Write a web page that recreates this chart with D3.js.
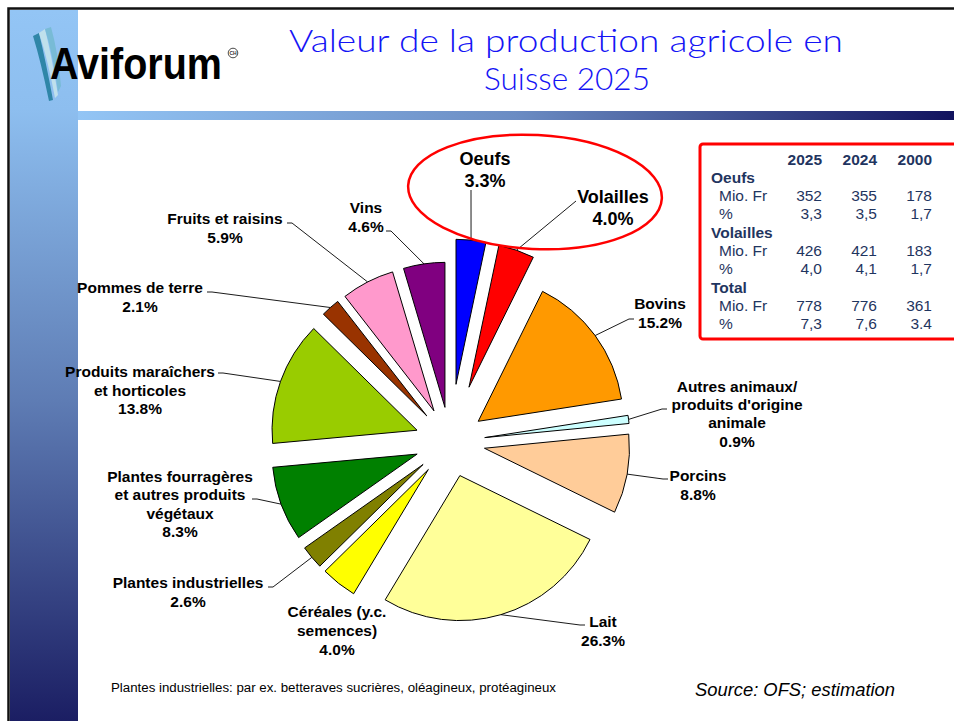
<!DOCTYPE html>
<html><head><meta charset="utf-8">
<script src="https://cdn.jsdelivr.net/npm/d3@7"></script>
<style>html,body{margin:0;padding:0;background:#fff;} svg{display:block;}</style>
</head><body>
<svg id="chart" width="954" height="721"></svg>
<script>
// ---------- DATA ----------
const categories = [
  "Oeufs", "Volailles", "Bovins",
  "Autres animaux/\nproduits d'origine\nanimale",
  "Porcins", "Lait", "Céréales (y.c.\nsemences)",
  "Plantes industrielles",
  "Plantes fourragères\net autres produits\nvégétaux",
  "Produits maraîchers\net horticoles",
  "Pommes de terre", "Fruits et raisins", "Vins"
];
const shares = [3.3, 4.0, 15.2, 0.9, 8.8, 26.3, 4.0, 2.6, 8.3, 13.8, 2.1, 5.9, 4.6];
const colors = ["#0000FF","#FF0000","#FF9900","#CCFFFF","#FFCC99","#FFFF99","#FFFF00",
                "#808000","#008000","#99CC00","#993300","#FF99CC","#800080"];
const highlighted = ["Oeufs", "Volailles"];

const tableYears = ["2025", "2024", "2000"];
const tableGroups = ["Oeufs", "Volailles", "Total"];
const tableUnits = ["Mio. Fr", "%"];
const oeufsValues = [["352","355","178"], ["3,3","3,5","1,7"]];
const volaillesValues = [["426","421","183"], ["4,0","4,1","1,7"]];
const totalValues = [["778","776","361"], ["7,3","7,6","3.4"]];

const titleLines = ["Valeur de la production agricole en", "Suisse 2025"];
const footnote = "Plantes industrielles: par ex. betteraves sucrières, oléagineux, protéagineux";
const sourceText = "Source: OFS; estimation";

// ---------- LAYOUT ----------
const svg = d3.select("#chart");
const W = 954, H = 721;
const defs = svg.append("defs");

const gV = defs.append("linearGradient").attr("id","gv").attr("x1",0).attr("y1",0).attr("x2",0).attr("y2",1);
[[0,"#93C5F5"],[0.14,"#8DBEEF"],[0.55,"#5E7CB4"],[1,"#1B1E63"]].forEach(s=>gV.append("stop").attr("offset",s[0]).attr("stop-color",s[1]));
const gH = defs.append("linearGradient").attr("id","gh").attr("x1",0).attr("y1",0).attr("x2",1).attr("y2",0);
[[0,"#93C5F5"],[0.5,"#6B8CC3"],[1,"#11125E"]].forEach(s=>gH.append("stop").attr("offset",s[0]).attr("stop-color",s[1]));

svg.append("rect").attr("width",W).attr("height",H).attr("fill","#fff");
svg.append("rect").attr("x",10).attr("y",10).attr("width",68).attr("height",H-10).attr("fill","url(#gv)");
svg.append("rect").attr("x",78).attr("y",111).attr("width",W-78).attr("height",9).attr("fill","url(#gh)");
svg.append("path").attr("d",`M8.5,${H+2} V8.5 H${W+2}`).attr("fill","none").attr("stroke","#111").attr("stroke-width",2.5);

// logo
const logo = svg.append("g");
logo.append("path").attr("d","M33,36 Q41,62 49,101 L53,100 Q46,62 39,33 Z").attr("fill","#2F86A8");
logo.append("path").attr("d","M39,33 Q48,60 55,98 L58,95 Q52,58 45,29 Z").attr("fill","#BFE0EC");
logo.append("path").attr("d","M45,29 Q53,55 58,92 L61,86 Q58,52 51,27 Z").attr("fill","#78BBD6");
logo.append("text").attr("transform","translate(50,79) scale(1,1.15)").attr("font-family","'Liberation Sans', Arial, sans-serif")
  .attr("font-weight","bold").attr("font-size",39).attr("textLength",172).attr("lengthAdjust","spacingAndGlyphs")
  .attr("fill","#000").text("Aviforum");
logo.append("circle").attr("cx",233).attr("cy",53).attr("r",4.8).attr("fill","none").attr("stroke","#333").attr("stroke-width",0.9);
logo.append("text").attr("x",233).attr("y",54.8).attr("text-anchor","middle").attr("font-family","'Liberation Sans', Arial")
  .attr("font-size",5).attr("font-weight","bold").attr("fill","#333").text("CH");

// title
const titleG = svg.append("g").attr("font-family","Lato, 'Liberation Sans', sans-serif").attr("font-weight",300)
  .attr("font-size",32).attr("fill","#1414F5").attr("text-anchor","middle");
titleG.append("text").attr("x",566).attr("y",52).attr("textLength",554).attr("lengthAdjust","spacingAndGlyphs").text(titleLines[0]);
titleG.append("text").attr("x",567).attr("y",90).attr("textLength",166).attr("lengthAdjust","spacingAndGlyphs").text(titleLines[1]);

// ---------- PIE ----------
const cx = 450, cy = 442, R = 145;
const explodeDefault = 35, explodeHighlight = 58;
const pie = d3.pie().sort(null).value(d => d);
const arcs = pie(shares);
const arcGen = d3.arc().innerRadius(0).outerRadius(R);
const pieG = svg.append("g").attr("transform",`translate(${cx},${cy})`);

function offsetOf(a, i) {
  const m = (a.startAngle + a.endAngle) / 2;
  const e = highlighted.includes(categories[i]) ? explodeHighlight : explodeDefault;
  return [e * Math.sin(m), -e * Math.cos(m)];
}
function outerMid(a, i) {
  const m = (a.startAngle + a.endAngle) / 2;
  const o = offsetOf(a, i);
  return [cx + o[0] + R * Math.sin(m), cy + o[1] - R * Math.cos(m)];
}

pieG.selectAll("path.slice").data(arcs).join("path").attr("class","slice")
  .attr("transform",(a,i)=>{const o=offsetOf(a,i);return `translate(${o[0]},${o[1]})`;})
  .attr("d",arcGen).attr("fill",(a,i)=>colors[i]).attr("stroke","#000").attr("stroke-width",1);

// label layout (text block centre x, first baseline, line height, leader end, stub)
const labelLayout = [
  {x:485, y:165, lh:22, fs:18, end:[471,190], stub:0},
  {x:613, y:203, lh:22, fs:18, end:[576,201], stub:0},
  {x:660, y:309, lh:19, fs:15.5, end:[634,319], stub:-5},
  {x:737, y:392, lh:18.2, fs:15.5, end:[667,409], stub:-5},
  {x:698, y:481, lh:19, fs:15.5, end:[668,479], stub:-5},
  {x:603, y:627, lh:18.5, fs:15.5, end:[585,625], stub:-5},
  {x:337, y:617, lh:19, fs:15.5, end:null},
  {x:188, y:588, lh:19, fs:15.5, end:[268,587], stub:5},
  {x:180, y:482, lh:18.3, fs:15.5, end:[252,499], stub:5},
  {x:140, y:377, lh:18.5, fs:15.5, end:[218,373], stub:5},
  {x:140, y:293, lh:18.5, fs:15.5, end:[207,292], stub:5},
  {x:225, y:224, lh:18.5, fs:15.5, end:[287,223], stub:5},
  {x:366, y:213, lh:18.5, fs:15.5, end:[386,231], stub:5}
];

const leaderG = svg.append("g").attr("fill","none").attr("stroke","#000").attr("stroke-width",0.9);
arcs.forEach((a,i)=>{
  const L = labelLayout[i];
  if (!L.end) return;
  const p = outerMid(a,i);
  const pts = [p];
  if (L.stub) pts.push([L.end[0]+L.stub, L.end[1]]);
  pts.push(L.end);
  leaderG.append("path").attr("d", d3.line()(pts));
});

const fmt = d3.format(".1f");
const labelG = svg.append("g").attr("font-family","'Liberation Sans', Arial, sans-serif")
  .attr("font-weight","bold").attr("fill","#000").attr("text-anchor","middle");
arcs.forEach((a,i)=>{
  const L = labelLayout[i];
  const lines = categories[i].split("\n").concat([fmt(shares[i]) + "%"]);
  const t = labelG.append("text").attr("font-size",L.fs);
  lines.forEach((s,k)=>t.append("tspan").attr("x",L.x).attr("y",L.y + k*L.lh).text(s));
});

// highlight ellipse
svg.append("ellipse").attr("cx",535).attr("cy",192).attr("rx",127).attr("ry",57)
  .attr("transform","rotate(3,535,192)").attr("fill","none").attr("stroke","#FF0000").attr("stroke-width",2.5);

// ---------- TABLE ----------
svg.append("rect").attr("x",700).attr("y",144).attr("width",280).attr("height",195).attr("rx",3)
  .attr("fill","none").attr("stroke","#FF0000").attr("stroke-width",3);
const tg = svg.append("g").attr("font-family","'Liberation Sans', Arial, sans-serif").attr("font-size",15.5).attr("fill","#1F3560");
const colRight = [822, 877, 932];
tableYears.forEach((yr,j)=>tg.append("text").attr("x",colRight[j]).attr("y",164.5).attr("text-anchor","end").attr("font-weight","bold").text(yr));
const groupValues = [oeufsValues, volaillesValues, totalValues];
const groupTop = [183, 237.5, 293];
tableGroups.forEach((g,gi)=>{
  const y0 = groupTop[gi];
  tg.append("text").attr("x",711).attr("y",y0).attr("font-weight","bold").text(g);
  tableUnits.forEach((u,ui)=>{
    const y = y0 + 18 * (ui+1);
    tg.append("text").attr("x",719).attr("y",y).text(u);
    groupValues[gi][ui].forEach((v,j)=>tg.append("text").attr("x",colRight[j]).attr("y",y).attr("text-anchor","end").text(v));
  });
});

// ---------- FOOTER ----------
svg.append("text").attr("x",111).attr("y",692).attr("font-family","'Liberation Sans', Arial, sans-serif")
  .attr("font-size",12).attr("textLength",445).attr("lengthAdjust","spacingAndGlyphs").attr("fill","#000").text(footnote);
svg.append("text").attr("x",695).attr("y",696).attr("font-family","'Liberation Sans', Arial, sans-serif")
  .attr("font-style","italic").attr("font-size",18.5).attr("textLength",200).attr("lengthAdjust","spacingAndGlyphs")
  .attr("fill","#000").text(sourceText);
</script>
</body></html>
